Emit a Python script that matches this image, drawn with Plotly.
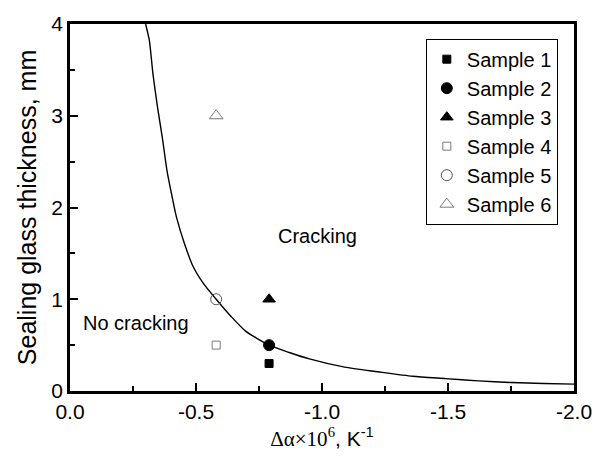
import plotly.graph_objects as go

# Boundary curve
curve_x = [-0.300, -0.315, -0.329, -0.347, -0.367, -0.385, -0.405, -0.422, -0.455, -0.488,
           -0.530, -0.580, -0.640, -0.698, -0.790, -0.870, -0.950, -1.090, -1.220, -1.360,
           -1.490, -1.620, -1.750, -1.880, -2.000]
curve_y = [4.00, 3.82, 3.46, 3.10, 2.75, 2.40, 2.12, 1.90, 1.60, 1.36,
           1.17, 1.00, 0.81, 0.65, 0.50, 0.42, 0.35, 0.26, 0.21, 0.16,
           0.135, 0.11, 0.093, 0.082, 0.075]

sample_names = ["Sample 1", "Sample 2", "Sample 3", "Sample 4", "Sample 5", "Sample 6"]
sample_x = [-0.79, -0.79, -0.79, -0.58, -0.58, -0.58]
sample_y = [0.30, 0.50, 1.00, 0.50, 1.00, 3.00]

x_tickvals = [0.0, -0.5, -1.0, -1.5, -2.0]
x_ticktext = ["0.0", "-0.5", "-1.0", "-1.5", "-2.0"]
y_tickvals = [0, 1, 2, 3, 4]
y_ticktext = ["0", "1", "2", "3", "4"]

region_labels = ["Cracking", "No cracking"]
region_x = [-0.817, -0.044]
region_y = [1.685, 0.74]

symbols = ["square", "circle", "triangle-up", "square-open", "circle-open", "triangle-up-open"]
sizes = [8, 11, 11, 8, 11, 12]
colors = ["black", "black", "black", "#7a7a7a", "#555555", "#7a7a7a"]

FONT = "Liberation Sans, Arial, sans-serif"

fig = go.Figure()
fig.add_trace(go.Scatter(x=curve_x, y=curve_y, mode="lines",
                         line=dict(color="black", width=1.4, shape="spline", smoothing=0.6),
                         showlegend=False, hoverinfo="skip"))
for i, name in enumerate(sample_names):
    fig.add_trace(go.Scatter(
        x=[sample_x[i]], y=[sample_y[i]], mode="markers", name=name,
        marker=dict(symbol=symbols[i], size=sizes[i], color=colors[i],
                    line=dict(width=1, color=colors[i])),
    ))

for t, x, y in zip(region_labels, region_x, region_y):
    fig.add_annotation(x=x, y=y, text=t, showarrow=False, xanchor="left", yanchor="middle",
                       font=dict(family=FONT, size=20, color="black"))

axis_common = dict(showline=True, linewidth=2.5, linecolor="black", mirror=True,
                   ticks="inside", ticklen=8, tickwidth=2, tickcolor="black",
                   showgrid=False, zeroline=False,
                   tickfont=dict(family=FONT, size=21, color="black"))

fig.update_xaxes(range=[0.0, -2.0], tickvals=x_tickvals, ticktext=x_ticktext,
                 minor=dict(dtick=0.25, tick0=0, ticks="inside", ticklen=5, tickwidth=2, tickcolor="black"),
                 title=dict(text='<span style="font-family:Liberation Serif">\u0394\u03b1\u00d710<sup>6</sup></span>, K<sup>-1</sup>',
                            font=dict(family=FONT, size=21, color="black"), standoff=10),
                 **axis_common)
fig.update_yaxes(range=[0, 4], tickvals=y_tickvals, ticktext=y_ticktext,
                 minor=dict(dtick=0.5, tick0=0, ticks="inside", ticklen=5, tickwidth=2, tickcolor="black"),
                 title=dict(text="Sealing glass thickness, mm",
                            font=dict(family=FONT, size=25, color="black"), standoff=8),
                 **axis_common)

fig.update_layout(
    width=604, height=460,
    margin=dict(l=69.5, r=27, t=16, b=69, pad=0),
    plot_bgcolor="white", paper_bgcolor="white",
    legend=dict(x=0.706, y=0.96, xanchor="left", yanchor="top",
                bordercolor="black", borderwidth=1, bgcolor="white",
                font=dict(family=FONT, size=20, color="black"),
                itemsizing="trace", itemwidth=30, tracegroupgap=0),
    showlegend=True,
)

fig.write_html("out.html")
